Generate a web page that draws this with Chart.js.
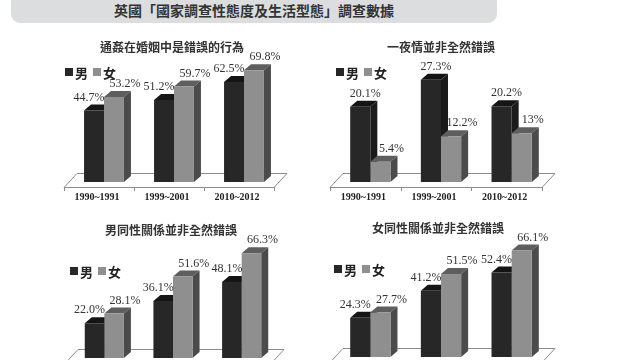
<!DOCTYPE html>
<html>
<head>
<meta charset="utf-8">
<script src="https://cdn.jsdelivr.net/npm/chart.js@4.4.1/dist/chart.umd.min.js"></script>
<style>
html, body { margin: 0; padding: 0; background: #fff; }
#page { position: relative; width: 640px; height: 360px; overflow: hidden; background: #fff; }
#banner { position: absolute; left: 11px; top: -12px; width: 486px; height: 35px; border-radius: 9px; background: #dcdddf; }
#banner span { position: absolute; left: 0; right: 0; bottom: 3px; text-align: center; font: bold 14px 'Noto Sans CJK TC'; color: #333; }
canvas { position: absolute; }
</style>
</head>
<body>
<div id="page">
  <div id="banner"><span>英國「國家調查性態度及生活型態」調查數據</span></div>
  <canvas id="c1" width="320" height="215" style="left:0;top:0"></canvas>
  <canvas id="c2" width="320" height="215" style="left:320px;top:0"></canvas>
  <canvas id="c3" width="320" height="160" style="left:0;top:200px"></canvas>
  <canvas id="c4" width="320" height="160" style="left:320px;top:200px"></canvas>
</div>
<script>
// 資料
const categories = ['1990~1991', '1999~2001', '2010~2012'];
const seriesNames = ['男', '女'];

const adulteryMale = [44.7, 51.2, 62.5];
const adulteryFemale = [53.2, 59.7, 69.8];

const oneNightMale = [20.1, 27.3, 20.2];
const oneNightFemale = [5.4, 12.2, 13];
const oneNightFemaleDecimals = [1, 1, 0];

const gayMale = [22.0, 36.1, 48.1];
const gayFemale = [28.1, 51.6, 66.3];

const lesbianMale = [24.3, 41.2, 52.4];
const lesbianFemale = [27.7, 51.5, 66.1];

// 顏色
const MALE = { front: '#272727', top: '#151515', side: '#1b1b1b' };
const FEMALE = { front: '#8f8f8f', top: '#5e5e5e', side: '#4b4b4b' };
const DX = 7, DY = 6;

// 立體長條、地板、標籤
const threeD = {
  id: 'threeD',
  beforeDatasetsDraw(chart) {
    const ctx = chart.ctx, a = chart.chartArea;
    const L = a.left, R = a.right, B = a.bottom;
    const n = chart.data.labels.length;
    ctx.save();
    // 地板
    ctx.fillStyle = '#fff';
    ctx.strokeStyle = '#8c8c8c';
    ctx.lineWidth = 1;
    ctx.beginPath();
    ctx.moveTo(L - 5, B + 5.5);
    ctx.lineTo(R - 5, B + 5.5);
    ctx.lineTo(R + 8, B - 8.5);
    ctx.lineTo(L + 8, B - 8.5);
    ctx.closePath();
    ctx.fill();
    ctx.stroke();
    for (let i = 0; i <= n; i++) {
      const tx = Math.round(L + (R - L) * i / n - 5) + 0.5;
      ctx.beginPath();
      ctx.moveTo(tx, B + 5);
      ctx.lineTo(tx, B + 9);
      ctx.stroke();
    }
    // 頂面與側面
    chart.data.datasets.forEach((ds, di) => {
      chart.getDatasetMeta(di).data.forEach(bar => {
        const l = bar.x - bar.width / 2, r = bar.x + bar.width / 2;
        const t = bar.y, b = bar.base;
        ctx.fillStyle = ds.topColor;
        ctx.beginPath();
        ctx.moveTo(l, t); ctx.lineTo(r, t);
        ctx.lineTo(r + DX, t - DY); ctx.lineTo(l + DX, t - DY);
        ctx.closePath(); ctx.fill();
        ctx.fillStyle = ds.sideColor;
        ctx.beginPath();
        ctx.moveTo(r, t); ctx.lineTo(r + DX, t - DY);
        ctx.lineTo(r + DX, b - DY); ctx.lineTo(r, b);
        ctx.closePath(); ctx.fill();
      });
    });
    ctx.restore();
  },
  afterDraw(chart, args, opts) {
    const ctx = chart.ctx, a = chart.chartArea;
    const xs = chart.scales.x;
    ctx.save();
    // 數值
    ctx.font = '12px "Liberation Serif"';
    ctx.fillStyle = '#333';
    ctx.textAlign = 'center';
    ctx.textBaseline = 'middle';
    const males = chart.getDatasetMeta(0).data;
    const females = chart.getDatasetMeta(1).data;
    chart.data.datasets.forEach((ds, di) => {
      chart.getDatasetMeta(di).data.forEach((bar, i) => {
        let off = 11;
        if (di === 0) off = females[i].y < males[i].y ? -5 : 5;
        const dec = ds.decimals ? ds.decimals[i] : 1;
        ctx.fillText(ds.data[i].toFixed(dec) + '%', bar.x + off, bar.y - 13);
      });
    });
    // 類別
    ctx.font = 'bold 10px "Liberation Serif"';
    ctx.fillStyle = '#222';
    chart.data.labels.forEach((lab, i) => {
      ctx.fillText(lab, xs.getPixelForValue(i) - 7, a.bottom + 15);
    });
    // 標題
    ctx.font = 'bold 12px "Noto Sans CJK TC"';
    ctx.fillStyle = '#333';
    ctx.fillText(opts.title, opts.titleX, opts.titleY);
    // 圖例
    ctx.textAlign = 'left';
    ctx.font = 'bold 13px "Noto Sans CJK TC"';
    chart.data.datasets.forEach((ds, di) => {
      const lx = opts.legendX + di * 28, ly = opts.legendY;
      ctx.fillStyle = ds.backgroundColor;
      ctx.fillRect(lx, ly - 4, 8, 8);
      ctx.fillStyle = '#222';
      ctx.fillText(ds.label, lx + 10, ly + 1);
    });
    ctx.restore();
  }
};

function makeChart(id, male, female, femaleDecimals, yMax, padding, opts) {
  const ctx = document.getElementById(id).getContext('2d');
  return new Chart(ctx, {
    type: 'bar',
    data: {
      labels: categories,
      datasets: [
        { label: seriesNames[0], data: male, backgroundColor: MALE.front, topColor: MALE.top, sideColor: MALE.side },
        { label: seriesNames[1], data: female, backgroundColor: FEMALE.front, topColor: FEMALE.top, sideColor: FEMALE.side, decimals: femaleDecimals }
      ]
    },
    options: {
      responsive: false,
      animation: false,
      devicePixelRatio: 1,
      layout: { padding: padding },
      datasets: { bar: { categoryPercentage: 0.57, barPercentage: 1, borderWidth: 0 } },
      plugins: {
        legend: { display: false },
        tooltip: { enabled: false },
        threeD: opts
      },
      scales: {
        x: { display: false },
        y: { display: false, min: 0, max: yMax }
      }
    },
    plugins: [threeD]
  });
}

makeChart('c1', adulteryMale, adulteryFemale, null, 100,
  { left: 69, right: 41, top: 22, bottom: 33 },
  { title: '通姦在婚姻中是錯誤的行為', titleX: 172, titleY: 47, legendX: 65, legendY: 72 });

makeChart('c2', oneNightMale, oneNightFemale, oneNightFemaleDecimals, 42.7,
  { left: 15, right: 93, top: 22, bottom: 33 },
  { title: '一夜情並非全然錯誤', titleX: 121, titleY: 47, legendX: 16, legendY: 72 });

makeChart('c3', gayMale, gayFemale, null, 100,
  { left: 70, right: 44, top: 0, bottom: 2 },
  { title: '男同性關係並非全然錯誤', titleX: 171, titleY: 30, legendX: 70, legendY: 71 });

makeChart('c4', lesbianMale, lesbianFemale, null, 97.5,
  { left: 15, right: 93, top: 0, bottom: 3 },
  { title: '女同性關係並非全然錯誤', titleX: 118, titleY: 28, legendX: 14, legendY: 69 });
</script>
</body>
</html>
